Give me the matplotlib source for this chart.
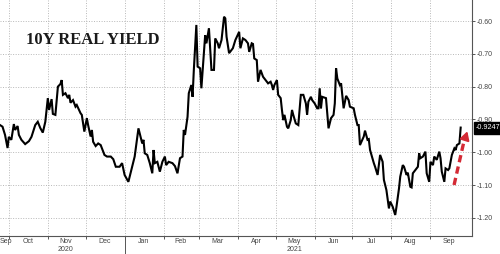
import matplotlib
matplotlib.use("Agg")
import matplotlib.pyplot as plt
import matplotlib.dates as mdates
import pandas as pd

# 10Y real yield (days counted from the first point)
start = "2020-09-24"
days = [0, 2, 4, 6, 7, 9, 11, 12, 14, 15, 17, 20, 23, 25, 28, 30, 32, 34, 36, 38,
        39, 41, 42, 44, 46, 48, 49, 50, 52, 54, 55, 56, 58, 60, 61, 64, 65, 67, 69, 70,
        72, 73, 74, 76, 78, 80, 81, 83, 85, 88, 90, 92, 95, 97, 99, 102, 105, 107, 110, 111,
        113, 114, 115, 117, 119, 121, 122, 123, 125, 127, 129, 131, 132, 134, 137, 139, 141, 143, 145, 146,
        147, 149, 150, 152, 153, 154, 156, 157, 159, 160, 162, 163, 164, 166, 167, 168, 170, 171, 173, 174,
        176, 178, 179, 180, 182, 185, 187, 190, 191, 193, 195, 197, 198, 200, 201, 202, 204, 205, 207, 209,
        211, 212, 213, 215, 216, 217, 218, 220, 221, 223, 224, 225, 226, 228, 229, 231, 232, 233, 235, 237,
        239, 241, 243, 244, 245, 247, 248, 250, 252, 253, 254, 255, 256, 259, 261, 263, 265, 266, 267, 268,
        270, 271, 273, 275, 277, 278, 281, 282, 284, 285, 286, 289, 290, 292, 293, 294, 297, 298, 300, 302,
        304, 305, 307, 309, 310, 312, 314, 315, 317, 318, 320, 321, 323, 324, 326, 327, 328, 330, 332, 333,
        334, 336, 338, 339, 341, 342, 344, 345, 347, 349, 350, 351, 353, 354, 356, 357, 359, 361, 362, 363,
        365, 366]
yields = [-0.917, -0.922, -0.947, -0.987, -0.953, -0.962, -0.914, -0.932, -0.920, -0.947,
          -0.962, -0.975, -0.966, -0.953, -0.917, -0.907, -0.926, -0.940, -0.907, -0.835,
          -0.871, -0.838, -0.883, -0.886, -0.800, -0.792, -0.780, -0.825, -0.820, -0.835,
          -0.825, -0.849, -0.841, -0.861, -0.856, -0.881, -0.886, -0.937, -0.896, -0.917,
          -0.952, -0.932, -0.968, -0.981, -0.973, -0.978, -0.988, -1.008, -1.013, -1.013,
          -1.021, -1.044, -1.044, -1.033, -1.069, -1.090, -1.044, -1.013, -0.927, -0.942,
          -0.973, -0.962, -1.003, -1.008, -1.033, -1.064, -0.993, -1.033, -1.029, -1.059,
          -1.029, -1.013, -1.039, -1.029, -1.033, -1.042, -1.064, -1.018, -1.013, -0.932,
          -0.947, -0.892, -0.820, -0.795, -0.831, -0.749, -0.612, -0.739, -0.744, -0.805,
          -0.698, -0.643, -0.668, -0.622, -0.688, -0.749, -0.749, -0.653, -0.668, -0.683,
          -0.658, -0.587, -0.592, -0.648, -0.698, -0.683, -0.658, -0.633, -0.683, -0.653,
          -0.658, -0.668, -0.694, -0.668, -0.670, -0.714, -0.719, -0.785, -0.749, -0.770,
          -0.780, -0.785, -0.790, -0.785, -0.795, -0.810, -0.795, -0.780, -0.825, -0.835,
          -0.871, -0.902, -0.886, -0.922, -0.927, -0.902, -0.871, -0.886, -0.912, -0.917,
          -0.825, -0.825, -0.851, -0.886, -0.846, -0.831, -0.841, -0.851, -0.866, -0.866,
          -0.805, -0.866, -0.831, -0.835, -0.927, -0.896, -0.886, -0.851, -0.744, -0.775,
          -0.795, -0.790, -0.866, -0.828, -0.841, -0.861, -0.866, -0.886, -0.917, -0.917,
          -0.978, -0.952, -0.934, -0.962, -0.960, -0.993, -1.033, -1.044, -1.069, -1.008,
          -1.029, -1.084, -1.115, -1.171, -1.150, -1.166, -1.191, -1.166, -1.110, -1.074,
          -1.039, -1.044, -1.069, -1.062, -1.105, -1.107, -1.064, -1.054, -1.044, -1.003,
          -1.018, -1.013, -0.998, -1.064, -1.090, -1.029, -1.039, -1.013, -1.023, -0.998,
          -1.018, -1.059, -1.090, -1.049, -1.054, -1.049, -1.008, -0.988, -0.993, -0.978,
          -0.973, -0.9247]

month_starts = ["2020-10-01", "2020-11-01", "2020-12-01", "2021-01-01", "2021-02-01",
                "2021-03-01", "2021-04-01", "2021-05-01", "2021-06-01", "2021-07-01",
                "2021-08-01", "2021-09-01"]
label_dates = ["2020-09-29", "2020-10-16", "2020-11-15", "2020-12-16", "2021-01-16",
               "2021-02-14", "2021-03-16", "2021-04-16", "2021-05-16", "2021-06-16",
               "2021-07-16", "2021-08-16", "2021-09-16"]
month_labels = ["Sep", "Oct", "Nov\n2020", "Dec", "Jan", "Feb", "Mar", "Apr",
                "May\n2021", "Jun", "Jul", "Aug", "Sep"]
y_ticks = [-0.6, -0.7, -0.8, -0.9, -1.0, -1.1, -1.2]

dates = pd.Timestamp(start) + pd.to_timedelta(days, unit="D")

plt.rcParams["font.family"] = ["Liberation Sans", "DejaVu Sans"]
fig = plt.figure(figsize=(5.0, 2.54), dpi=100)
ax = fig.add_axes([0.0, 0.0709, 0.944, 0.9291])

ax.plot(dates, yields, color="black", lw=1.5, solid_joinstyle="miter")

ax.set_xlim(pd.Timestamp("2020-09-24"), pd.Timestamp("2021-10-04"))
ax.set_ylim(-1.255, -0.536)

# axes: right side values, gray frame
for s in ["top", "left"]:
    ax.spines[s].set_visible(False)
for s in ["right", "bottom"]:
    ax.spines[s].set_color("#555555")
    ax.spines[s].set_linewidth(0.8)

ax.yaxis.tick_right()
ax.set_yticks(y_ticks)
ax.set_yticklabels([f"{v:.2f}" for v in y_ticks])
ax.tick_params(axis="y", length=2.5, width=0.7, color="#555555", pad=1,
               labelsize=5, labelcolor="#444444")

ax.set_xticks(pd.to_datetime(month_starts))
ax.set_xticklabels([])
ax.tick_params(axis="x", which="major", length=2.5, width=0.7, color="#555555")
ax.set_xticks(pd.to_datetime(label_dates), minor=True)
ax.set_xticklabels(month_labels, minor=True, linespacing=1.1)
ax.tick_params(axis="x", which="minor", length=0, pad=1.5, labelsize=5,
               labelcolor="#444444")

ax.grid(True, which="major", color="#b8b8b8", linestyle=(0, (1, 1.6)), lw=0.7)

# year divider below the axis
ax.plot([mdates.date2num(pd.Timestamp("2021-01-01"))] * 2, [0, -0.09],
        transform=ax.get_xaxis_transform(), color="#555555", lw=0.7, clip_on=False)

ax.text(0.055, 0.83, "10Y REAL YIELD", transform=ax.transAxes, family="Liberation Serif",
        fontweight="bold", fontsize=12, color="#1a1a1a", va="center", ha="left")

# last value tag
ax.annotate(f"{yields[-1]:.4f}", xy=(1.0, yields[-1]), xycoords=("axes fraction", "data"),
            xytext=(3, 0), textcoords="offset points", va="center", ha="left",
            fontsize=5.2, color="white",
            bbox=dict(boxstyle="square,pad=0.35", fc="black", ec="black"))

# red dashed arrow
ax.plot([0.962, 0.984], [0.216, 0.41], transform=ax.transAxes, color="#d42a35",
        lw=2.4, linestyle=(0, (2.2, 1.3)), clip_on=False)
ax.annotate("", xy=(0.992, 0.455), xycoords="axes fraction",
            xytext=(0.984, 0.405), textcoords="axes fraction",
            arrowprops=dict(arrowstyle="-|>,head_length=0.5,head_width=0.28",
                            color="#d42a35", lw=1.5))

fig.savefig("out.png", dpi=100)
